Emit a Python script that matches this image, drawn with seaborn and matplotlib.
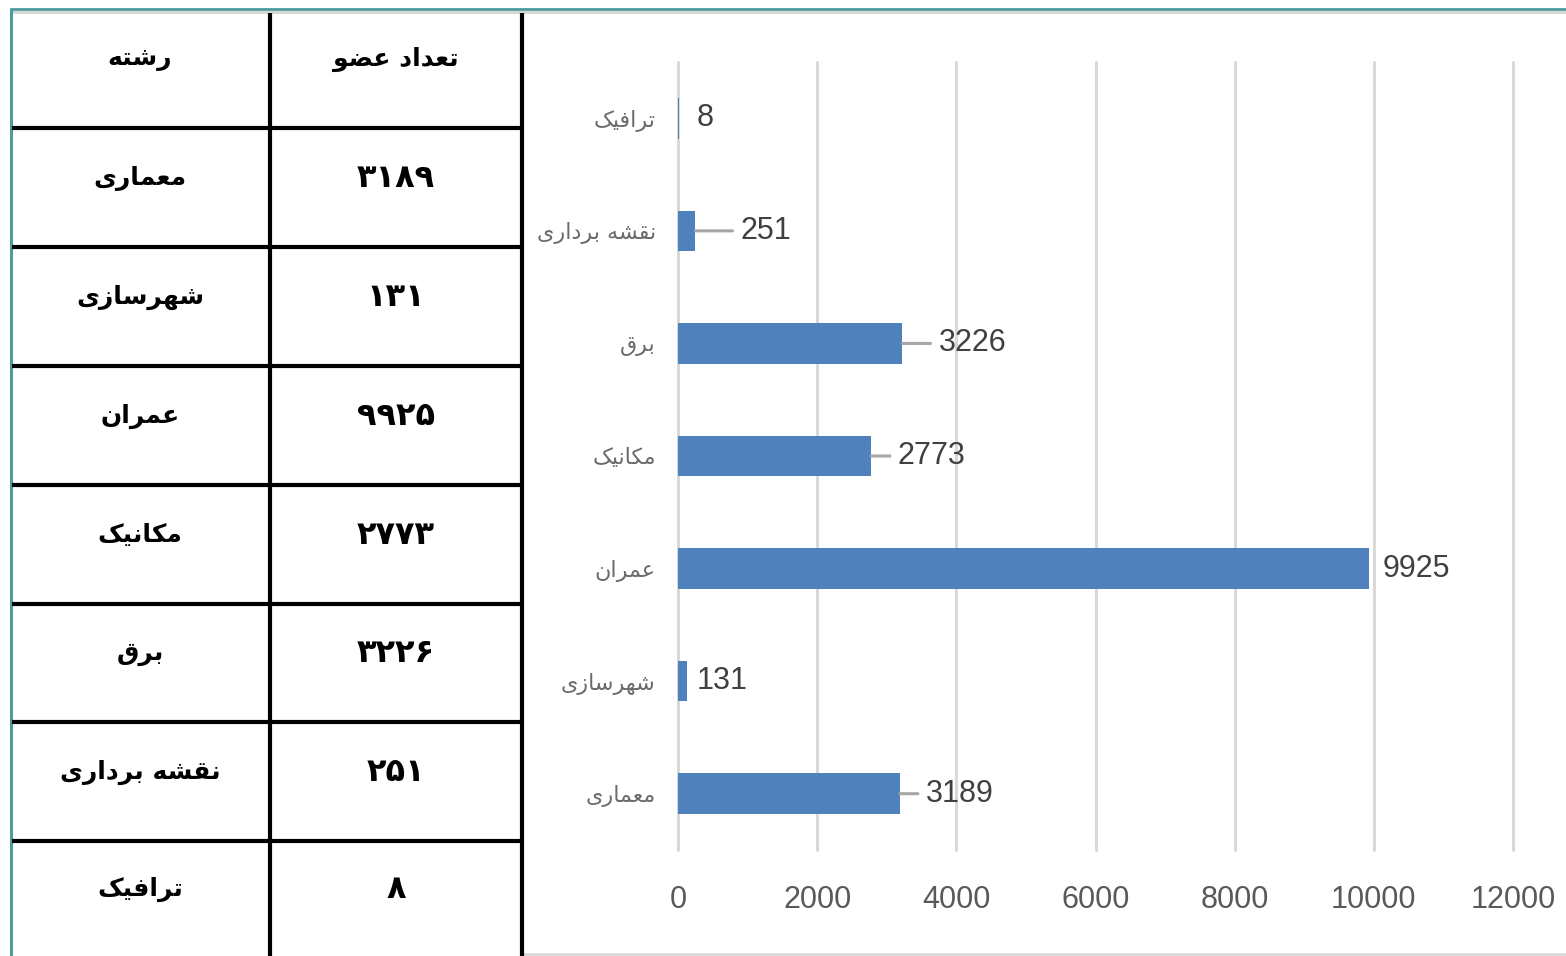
import numpy as np
import pandas as pd
import matplotlib
matplotlib.use('Agg')
import matplotlib.pyplot as plt
from matplotlib import font_manager
import seaborn as sns

# %% Data
fields = ['ترافیک', 'نقشه برداری', 'برق', 'مکانیک', 'عمران', 'شهرسازی', 'معماری']
members = [8, 251, 3226, 2773, 9925, 131, 3189]

table_header = ['رشته', 'تعداد عضو']
table_fields = ['معماری', 'شهرسازی', 'عمران', 'مکانیک', 'برق', 'نقشه برداری', 'ترافیک']
table_members = [3189, 131, 9925, 2773, 3226, 251, 8]

x_ticks = [0, 2000, 4000, 6000, 8000, 10000, 12000]

# label offsets (pixels from bar end), as placed in the original
label_offsets = [18, 45, 36, 27, 14, 10, 26]

# %% Minimal Arabic/Persian shaping (matplotlib draws LTR without joining)
FORMS = {
    'ا': ('\uFE8D', '\uFE8E', None, None),
    'ب': ('\uFE8F', '\uFE90', '\uFE91', '\uFE92'),
    'ت': ('\uFE95', '\uFE96', '\uFE97', '\uFE98'),
    'د': ('\uFEA9', '\uFEAA', None, None),
    'ر': ('\uFEAD', '\uFEAE', None, None),
    'ز': ('\uFEAF', '\uFEB0', None, None),
    'س': ('\uFEB1', '\uFEB2', '\uFEB3', '\uFEB4'),
    'ش': ('\uFEB5', '\uFEB6', '\uFEB7', '\uFEB8'),
    'ض': ('\uFEBD', '\uFEBE', '\uFEBF', '\uFEC0'),
    'ع': ('\uFEC9', '\uFECA', '\uFECB', '\uFECC'),
    'ف': ('\uFED1', '\uFED2', '\uFED3', '\uFED4'),
    'ق': ('\uFED5', '\uFED6', '\uFED7', '\uFED8'),
    'م': ('\uFEE1', '\uFEE2', '\uFEE3', '\uFEE4'),
    'ن': ('\uFEE5', '\uFEE6', '\uFEE7', '\uFEE8'),
    'ه': ('\uFEE9', '\uFEEA', '\uFEEB', '\uFEEC'),
    'و': ('\uFEED', '\uFEEE', None, None),
    '\u06A9': ('\uFB8E', '\uFB8F', '\uFB90', '\uFB91'),
    '\u06CC': ('\uFBFC', '\uFBFD', '\uFBFE', '\uFBFF'),
}


def shape(s):
    s = s.replace('\u064A', '\u06CC').replace('\u0643', '\u06A9')
    out = []
    for i, c in enumerate(s):
        f = FORMS.get(c)
        if f is None:
            out.append(c)
            continue
        prev = s[i - 1] if i > 0 else None
        nxt = s[i + 1] if i + 1 < len(s) else None
        jp = prev in FORMS and FORMS[prev][2] is not None
        jn = f[2] is not None and nxt in FORMS
        if jp and jn:
            out.append(f[3])
        elif jp:
            out.append(f[1])
        elif jn:
            out.append(f[2])
        else:
            out.append(f[0])
    return ''.join(reversed(out))


def fa_digits(n):
    return str(n).translate(str.maketrans('0123456789', '۰۱۲۳۴۵۶۷۸۹'))


# narrow font for numbers if available
names = {f.name for f in font_manager.fontManager.ttflist}
num_family = ['Liberation Sans Narrow'] if 'Liberation Sans Narrow' in names else ['Liberation Sans']

# %% Figure
sns.set_style('white')
plt.rcParams['font.family'] = ['DejaVu Sans']
W, H = 1566, 956
fig = plt.figure(figsize=(W / 100, H / 100), dpi=100)

# full-figure axes in pixel coords for table and frame
bg = fig.add_axes([0, 0, 1, 1])
bg.set_xlim(0, W)
bg.set_ylim(H, 0)
bg.axis('off')

teal = '#4E9A9C'
bg.plot([10, W], [9, 9], color=teal, lw=2, solid_capstyle='butt')
bg.plot([10, W], [11.5, 11.5], color='#D4D4D4', lw=2, solid_capstyle='butt')
bg.plot([11, 11], [8, H], color=teal, lw=2.2, solid_capstyle='butt')
bg.plot([522, W], [954, 954], color='#D9D9D9', lw=2, solid_capstyle='butt')

row_edges = [12, 128, 247, 366, 485, 604, 722, 841, 956]
for y in row_edges[1:-1]:
    bg.plot([12, 522], [y, y], color='black', lw=3, solid_capstyle='butt')
for x in [270, 522]:
    bg.plot([x, x], [13, H], color='black', lw=3, solid_capstyle='butt')

name_x, num_x = 140, 396
hy = (row_edges[0] + row_edges[1]) / 2 - 11
bg.text(name_x, hy, shape(table_header[0]), ha='center', va='center',
        fontsize=18, fontweight='bold', color='black')
bg.text(num_x, hy, shape(table_header[1]), ha='center', va='center',
        fontsize=18, fontweight='bold', color='black')
for i, (nm, v) in enumerate(zip(table_fields, table_members)):
    yc = (row_edges[i + 1] + row_edges[i + 2]) / 2 - 9
    bg.text(name_x, yc, shape(nm), ha='center', va='center',
            fontsize=18, fontweight='bold', color='black')
    bg.text(num_x, yc, fa_digits(v), ha='center', va='center',
            fontsize=23, fontweight='bold', color='black')

# %% Bar chart
ax = fig.add_axes([678 / W, 1 - 850 / H, (1513 - 678) / W, (850 - 62) / H])
df = pd.DataFrame({'field': fields, 'members': members})
sns.barplot(data=df, x='members', y='field', orient='h', color='#4F81BD',
            width=0.36, saturation=1, linewidth=0, ax=ax)
ax.set_xlim(0, 12000)
ax.set_ylim(6.5, -0.5)
ax.set_xticks(x_ticks)
ax.set_xticklabels([str(t) for t in x_ticks], family=num_family)
ax.set_yticks(range(len(fields)))
ax.set_yticklabels([shape(f) for f in fields])
ax.set_xlabel('')
ax.set_ylabel('')
ax.grid(axis='x', color='#D9D9D9', lw=2.2)
for gl in ax.get_xgridlines():
    gl.set_clip_on(False)
ax.set_axisbelow(True)
for s in ax.spines.values():
    s.set_visible(False)
ax.tick_params(axis='x', length=0, pad=25, labelsize=22, labelcolor='#595959')
ax.tick_params(axis='y', length=0, pad=16, labelsize=16, labelcolor='#6B6B6B')

for i, (v, off) in enumerate(zip(members, label_offsets)):
    if off > 20:
        ax.annotate('', xy=(v, i), xytext=(off - 8, 0), textcoords='offset pixels',
                    arrowprops=dict(arrowstyle='-', color='#A6A6A6', lw=2.2,
                                    shrinkA=0, shrinkB=0))
    ax.annotate(str(v), xy=(v, i), xytext=(off, 0), textcoords='offset pixels',
                ha='left', va='center', fontsize=22, color='#404040',
                family=num_family)

fig.savefig('out.png', dpi=100, facecolor='white')
